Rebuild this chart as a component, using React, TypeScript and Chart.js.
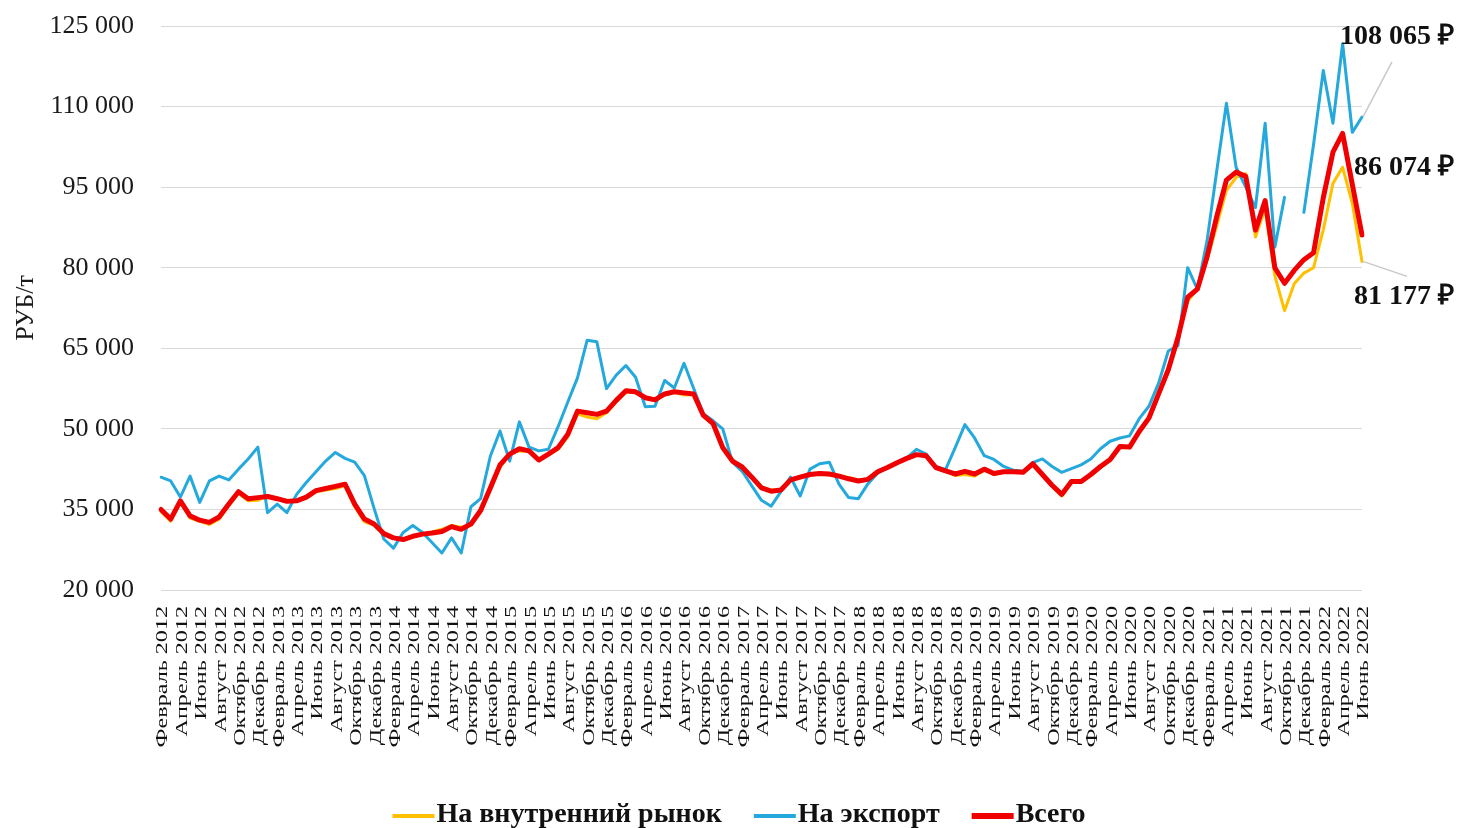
import React, { useEffect, useRef } from "react";
import { Chart, registerables } from "chart.js";

Chart.register(...registerables);

// ---------- categories ----------
const MONTHS = [
  "Январь", "Февраль", "Март", "Апрель", "Май", "Июнь",
  "Июль", "Август", "Сентябрь", "Октябрь", "Ноябрь", "Декабрь",
];
const FIRST_YEAR = 2012;
const FIRST_MONTH_INDEX = 1; // Февраль
const POINT_COUNT = 125; // Февраль 2012 .. Июнь 2022
const LABEL_EVERY = 2;

const categories: string[] = Array.from({ length: POINT_COUNT }, (_, i) => {
  const m = FIRST_MONTH_INDEX + i;
  return `${MONTHS[m % 12]} ${FIRST_YEAR + Math.floor(m / 12)}`;
});

// ---------- series (РУБ/т) ----------
const domestic: number[] = [
  34600, 32800, 36500, 33400, 32800, 32200, 33200, 35700, 38000, 36600,
  36700, 37600, 37100, 36700, 36500, 37100, 38300, 38600, 38900, 39400,
  35500, 32700, 32100, 30600, 29900, 29300, 29900, 30400, 30800, 31300,
  32000, 31700, 32000, 34600, 38600, 42800, 45400, 45900, 45800, 44100,
  45200, 46200, 48500, 52800, 52200, 51900, 53000, 55000, 56800, 56700,
  55900, 55500, 56300, 56800, 56300, 56400, 52500, 50900, 46200, 44000,
  43000, 41100, 39200, 38600, 38600, 40500, 41200, 41400, 41600, 41400,
  41300, 40900, 40500, 40600, 42000, 42800, 43700, 44500, 45100, 45000,
  42800, 42200, 41300, 41500, 41200, 42300, 41500, 41900, 42000, 41900,
  43500, 41300, 39300, 37500, 40000, 40000, 41300, 42800, 44100, 46600,
  46500, 49300, 51800, 56300, 60700, 67200, 73800, 76000, 81500, 87800,
  94400, 96800, 97500, 85700, 91000, 78500, 72000, 77000, 79000, 80000,
  87000, 95700, 98700, 92000, 81177,
];

const exportPrices: (number | null)[] = [
  41000, 40300, 37300, 41200, 36300, 40300, 41200, 40500, 42500, 44400,
  46600, 34400, 36000, 34400, 37800, 40000, 42000, 44000, 45600, 44500,
  43800, 41300, 35200, 29500, 27800, 30700, 32000, 30700, 28800, 26900,
  29700, 26900, 35500, 37000, 44900, 49600, 44000, 51300, 46600, 45900,
  46200, 50400, 55000, 59500, 66500, 66200, 57500, 60000, 61800, 59600,
  54100, 54200, 59000, 57600, 62200, 57500, 52800, 51500, 50000, 43800,
  42100, 39400, 36700, 35600, 38300, 41000, 37500, 42500, 43500, 43800,
  39700, 37200, 37000, 39800, 41800, 42800, 43700, 44600, 46200, 45300,
  43000, 42400, 46500, 50800, 48300, 45000, 44300, 43000, 42300, 42100,
  43700, 44400, 43000, 41900, 42600, 43300, 44400, 46300, 47700, 48300,
  48700, 51900, 54200, 58500, 64500, 65500, 80000, 76000, 85000, 98000,
  110600, 98700, 95000, 91200, 106900, 83800, 93100, null, 90300, 103000,
  116700, 106900, 121700, 105200, 108065,
];

const total: number[] = [
  35000, 33200, 36600, 33800, 33000, 32600, 33600, 36000, 38300, 37000,
  37200, 37400, 37000, 36500, 36600, 37300, 38500, 38900, 39300, 39700,
  36000, 33200, 32300, 30500, 29700, 29400, 30000, 30400, 30600, 30900,
  31800, 31300, 32300, 34800, 39000, 43300, 45300, 46300, 45900, 44200,
  45300, 46500, 49000, 53300, 53000, 52700, 53300, 55300, 57100, 56900,
  55800, 55400, 56500, 56900, 56700, 56500, 52500, 51000, 46500, 44000,
  42900, 41000, 39000, 38400, 38600, 40500, 41000, 41500, 41700, 41600,
  41200, 40700, 40300, 40600, 42000, 42800, 43700, 44500, 45200, 45000,
  42800, 42200, 41600, 42100, 41600, 42500, 41700, 42000, 42000, 41900,
  43500, 41500, 39500, 37800, 40200, 40200, 41500, 43000, 44300, 46700,
  46600, 49500, 52000, 56500, 61000, 67000, 74500, 76000, 82000, 89500,
  96300, 97800, 97000, 87000, 92500, 80000, 77100, 79500, 81500, 82800,
  93000, 101500, 105000, 95500, 86074,
];

const SERIES_NAMES = ["На внутренний рынок", "На экспорт", "Всего"];
const SERIES_COLORS = ["#FFC000", "#25A8DC", "#F00000"];
const SERIES_WIDTHS = [3, 3, 5];

const Y_MIN = 20000;
const Y_MAX = 125000;
const Y_STEP = 15000;
const Y_TITLE = "РУБ/т";
const CURRENCY = "₽";

const fmt = (v: number) =>
  Math.round(v).toString().replace(/\B(?=(\d{3})+(?!\d))/g, " ");

const SERIF = '"Liberation Serif", "Times New Roman", serif';

export default function App() {
  const canvasRef = useRef<HTMLCanvasElement | null>(null);

  useEffect(() => {
    const canvas = canvasRef.current;
    if (!canvas) return;

    // Stretched, rotated category labels (every second month)
    const xLabelsPlugin = {
      id: "xLabels",
      afterDraw(chart: any) {
        const { ctx, scales } = chart;
        const xs = scales.x;
        const bottom = chart.chartArea.bottom;
        ctx.save();
        ctx.fillStyle = "#111";
        ctx.font = `17px ${SERIF}`;
        ctx.textAlign = "right";
        ctx.textBaseline = "middle";
        for (let i = 0; i < categories.length; i += LABEL_EVERY) {
          const x = xs.getPixelForValue(i);
          ctx.save();
          ctx.translate(x + 2, bottom + 16);
          ctx.rotate(-Math.PI / 2);
          ctx.scale(1.42, 1);
          ctx.fillText(categories[i], 0, 0);
          ctx.restore();
        }
        ctx.restore();
      },
    };

    // End-value annotations
    const endLabelsPlugin = {
      id: "endLabels",
      afterDraw(chart: any) {
        const { ctx, scales } = chart;
        const xs = scales.x;
        const ys = scales.y;
        const last = POINT_COUNT - 1;
        const x = xs.getPixelForValue(last);
        const yExp = ys.getPixelForValue(exportPrices[last] as number);
        const yTot = ys.getPixelForValue(total[last]);
        const yDom = ys.getPixelForValue(domestic[last]);
        ctx.save();
        ctx.strokeStyle = "#C8C8C8";
        ctx.lineWidth = 1.5;
        ctx.beginPath();
        ctx.moveTo(x + 1, yExp);
        ctx.lineTo(x + 30, yExp - 55);
        ctx.moveTo(x + 1, yDom);
        ctx.lineTo(x + 45, yDom + 15);
        ctx.stroke();
        ctx.fillStyle = "#111";
        ctx.font = `bold 28px ${SERIF}`;
        ctx.textAlign = "left";
        ctx.textBaseline = "middle";
        ctx.fillText(`${fmt(exportPrices[last] as number)} ${CURRENCY}`, x - 22, yExp - 80);
        ctx.fillText(`${fmt(total[last])} ${CURRENCY}`, x - 8, yTot - 67);
        ctx.fillText(`${fmt(domestic[last])} ${CURRENCY}`, x - 8, yDom + 35);
        ctx.restore();
      },
    };

    // Bottom legend with line markers
    const legendPlugin = {
      id: "lineLegend",
      afterDraw(chart: any) {
        const { ctx } = chart;
        ctx.save();
        ctx.font = `bold 28px ${SERIF}`;
        const marker = 42;
        const gapText = 2;
        const gapItem = 32;
        const widths = SERIES_NAMES.map((t) => ctx.measureText(t).width);
        const totalW =
          widths.reduce((a, w) => a + marker + gapText + w, 0) +
          gapItem * (SERIES_NAMES.length - 1);
        let x = 739 - totalW / 2;
        const y = 815;
        SERIES_NAMES.forEach((name, i) => {
          ctx.strokeStyle = SERIES_COLORS[i];
          ctx.lineWidth = SERIES_WIDTHS[i] + 1;
          ctx.lineCap = "butt";
          ctx.beginPath();
          ctx.moveTo(x, y + 1);
          ctx.lineTo(x + marker, y + 1);
          ctx.stroke();
          ctx.fillStyle = "#111";
          ctx.textAlign = "left";
          ctx.textBaseline = "middle";
          ctx.fillText(name, x + marker + gapText, y);
          x += marker + gapText + widths[i] + gapItem;
        });
        ctx.restore();
      },
    };

    const seriesData = [domestic, exportPrices, total];
    const orders = [2, 1, 0];

    const chart = new Chart(canvas, {
      type: "line",
      data: {
        labels: categories,
        datasets: SERIES_NAMES.map((name, i) => ({
          label: name,
          data: seriesData[i] as any,
          borderColor: SERIES_COLORS[i],
          backgroundColor: SERIES_COLORS[i],
          borderWidth: SERIES_WIDTHS[i],
          pointRadius: 0,
          pointHoverRadius: 0,
          tension: 0,
          spanGaps: false,
          borderJoinStyle: "round" as const,
          borderCapStyle: "round" as const,
          order: orders[i],
        })),
      },
      options: {
        responsive: false,
        animation: false,
        devicePixelRatio: 1,
        layout: {
          padding: { top: 26, right: 96, bottom: 238, left: 0 },
        },
        plugins: {
          legend: { display: false },
          tooltip: { enabled: false },
        },
        scales: {
          x: {
            type: "category",
            offset: false,
            grid: { display: false, drawTicks: false },
            border: { display: false },
            ticks: { display: false },
          },
          y: {
            min: Y_MIN,
            max: Y_MAX,
            afterFit(scale: any) {
              scale.width = 161;
              scale.paddingTop = 0;
              scale.paddingBottom = 0;
            },
            grid: { color: "#D9D9D9", lineWidth: 1, drawTicks: false },
            border: { display: false },
            ticks: {
              stepSize: Y_STEP,
              padding: 27,
              color: "#1a1a1a",
              font: { family: SERIF, size: 26 },
              callback: (v: any) => fmt(Number(v)),
            },
            title: {
              display: true,
              text: Y_TITLE,
              color: "#1a1a1a",
              font: { family: SERIF, size: 26 },
              padding: { top: 11, bottom: 0 },
            },
          },
        },
      },
      plugins: [xLabelsPlugin, endLabelsPlugin, legendPlugin],
    });

    return () => chart.destroy();
  }, []);

  return (
    <div
      style={{
        position: "fixed",
        left: 0,
        top: 0,
        width: 1458,
        height: 828,
        background: "#fff",
      }}
    >
      <canvas ref={canvasRef} width={1458} height={828} />
    </div>
  );
}
